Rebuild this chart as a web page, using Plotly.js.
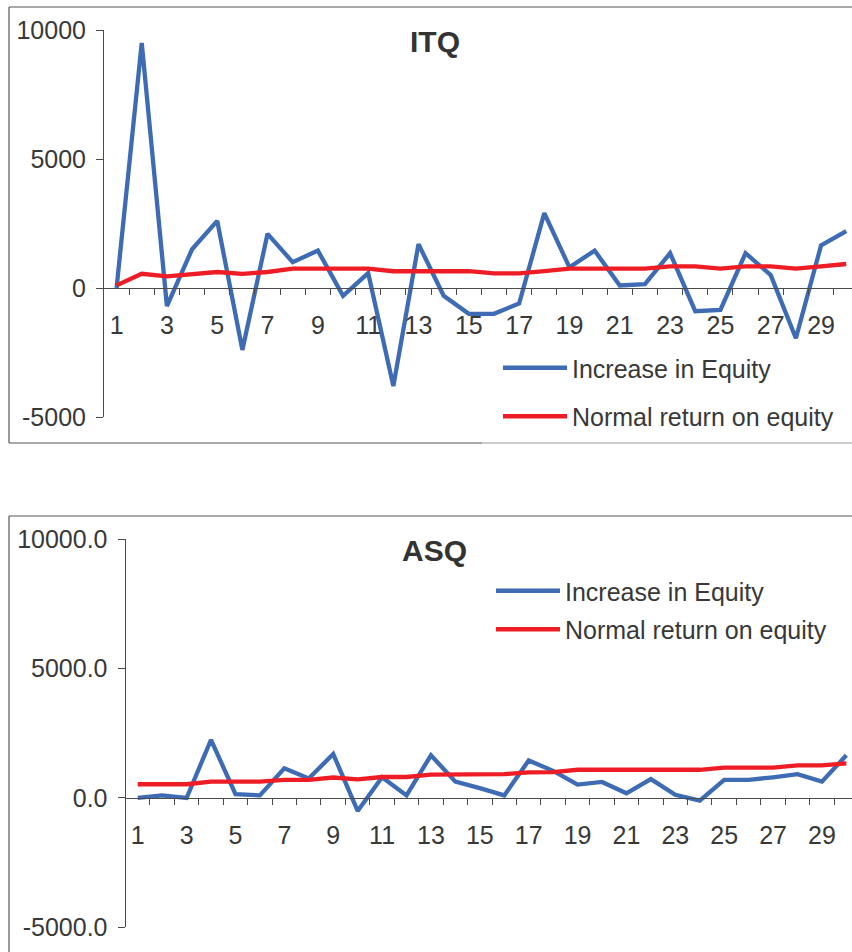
<!DOCTYPE html>
<html>
<head>
<meta charset="utf-8">
<script src="https://cdn.plot.ly/plotly-3.0.1.min.js"></script>
<style>
  html, body { margin: 0; padding: 0; background: #ffffff; }
  #chart { width: 852px; height: 952px; }
</style>
</head>
<body>
<div id="chart"></div>
<script>
// Periods on the horizontal axis
const periods = [1, 2, 3, 4, 5, 6, 7, 8, 9, 10, 11, 12, 13, 14, 15,
                 16, 17, 18, 19, 20, 21, 22, 23, 24, 25, 26, 27, 28, 29, 30];
const periodLabels = [1, 3, 5, 7, 9, 11, 13, 15, 17, 19, 21, 23, 25, 27, 29];

// ITQ series
const itqIncrease = [0, 9500, -700, 1500, 2600, -2400, 2100, 1000, 1450, -300,
                     580, -3800, 1700, -300, -1000, -1000, -600, 2900, 800, 1450,
                     100, 150, 1350, -900, -850, 1350, 500, -1950, 1650, 2200];
const itqNormal   = [100, 550, 450, 550, 620, 550, 620, 750, 750, 750,
                     750, 650, 650, 650, 650, 570, 570, 650, 750, 750,
                     750, 750, 840, 840, 750, 840, 840, 750, 840, 930];

// ASQ series
const asqIncrease = [0, 100, 0, 2250, 150, 100, 1150, 750, 1700, -500,
                     800, 100, 1650, 630, 380, 100, 1450, 1050, 520, 620,
                     180, 730, 120, -100, 700, 700, 800, 920, 630, 1650];
const asqNormal   = [530, 530, 530, 630, 630, 630, 700, 700, 790, 720,
                     810, 810, 900, 920, 920, 920, 990, 1000, 1090, 1090,
                     1090, 1090, 1090, 1090, 1170, 1170, 1170, 1260, 1260, 1340];

const seriesNames = ['Increase in Equity', 'Normal return on equity'];
const yTicks = [-5000, 0, 5000, 10000];

const W = 852, H = 952;
const BLUE = '#3D6BB4';
const RED = '#EE1D25';
const INK = '#383838';
const AXIS = '#4a4a4a';
const FRAME = '#555555';
const FONT = '"Liberation Sans", Arial, Helvetica, sans-serif';

const px = x => x / W;
const py = y => 1 - y / H;

const yRange = [-5000, 10000];
const xRange = [0.5, 30.23];

const topY = [py(417), py(30)];
const botY = [py(927.3), py(539.3)];

// x axis crosses the y axis at value 0
const zeroPos = dom => dom[0] + (0 - yRange[0]) / (yRange[1] - yRange[0]) * (dom[1] - dom[0]);

function xAxis(domainLeft, dom) {
  return {
    domain: [px(domainLeft), 1],
    range: xRange,
    anchor: 'free',
    position: zeroPos(dom),
    showline: true, linecolor: AXIS, linewidth: 1,
    showgrid: false, zeroline: false,
    tickmode: 'array',
    tickvals: periodLabels,
    ticktext: periodLabels.map(String),
    ticks: '',
    ticklabelstandoff: 15,
    tickfont: { family: FONT, size: 25, color: INK },
    minor: {
      tickmode: 'array',
      tickvals: periods.map(p => p + 0.5),
      ticks: 'outside', ticklen: 6, tickwidth: 1, tickcolor: AXIS,
      showgrid: false
    },
    fixedrange: true
  };
}

function yAxis(anchor, dom, decimals) {
  return {
    domain: dom,
    range: yRange,
    anchor: anchor,
    showline: true, linecolor: AXIS, linewidth: 1,
    showgrid: false, zeroline: false,
    tickmode: 'array',
    tickvals: yTicks,
    ticktext: yTicks.map(v => v.toFixed(decimals)),
    ticks: 'outside', ticklen: 7, tickwidth: 1, tickcolor: AXIS,
    ticklabelstandoff: 5,
    tickfont: { family: FONT, size: 25, color: INK },
    fixedrange: true
  };
}

function line(x, y, color, name, xa, ya, legend, group) {
  return {
    type: 'scatter', mode: 'lines',
    x: x, y: y, name: name,
    xaxis: xa, yaxis: ya,
    legend: legend, legendgroup: group,
    line: { color: color, width: 4.3 },
    hoverinfo: 'x+y'
  };
}

const traces = [
  line(periods, itqIncrease, BLUE, seriesNames[0], 'x', 'y', 'legend', 'a1'),
  line(periods, itqNormal, RED, seriesNames[1], 'x', 'y', 'legend', 'a2'),
  line(periods, asqIncrease, BLUE, seriesNames[0], 'x2', 'y2', 'legend2', 'b1'),
  line(periods, asqNormal, RED, seriesNames[1], 'x2', 'y2', 'legend2', 'b2')
];

function legendBox(left, top, gap) {
  return {
    x: px(left), xanchor: 'left',
    y: py(top), yanchor: 'top',
    bgcolor: 'rgba(0,0,0,0)', borderwidth: 0,
    font: { family: FONT, size: 25, color: INK },
    itemwidth: 64,
    tracegroupgap: gap,
    traceorder: 'grouped'
  };
}

// panel frames
const frameShapes = [
  // ITQ panel
  { type: 'line', xref: 'paper', yref: 'paper', x0: px(9), x1: px(9), y0: py(443), y1: py(7), line: { color: FRAME, width: 1.2 } },
  { type: 'line', xref: 'paper', yref: 'paper', x0: px(9), x1: 1.01, y0: py(7), y1: py(7), line: { color: FRAME, width: 1.2 } },
  { type: 'line', xref: 'paper', yref: 'paper', x0: px(9), x1: px(482), y0: py(443), y1: py(443), line: { color: FRAME, width: 1.2 } },
  { type: 'line', xref: 'paper', yref: 'paper', x0: px(482), x1: 1.01, y0: py(443), y1: py(443), line: { color: '#9a9a9a', width: 1.2 } },
  // ASQ panel
  { type: 'line', xref: 'paper', yref: 'paper', x0: px(9), x1: px(9), y0: -0.01, y1: py(516), line: { color: FRAME, width: 1.2 } },
  { type: 'line', xref: 'paper', yref: 'paper', x0: px(9), x1: 1.01, y0: py(516), y1: py(516), line: { color: FRAME, width: 1.2 } }
];

const titles = [
  { text: '<b>ITQ</b>', x: px(434.5), y: py(42) },
  { text: '<b>ASQ</b>', x: px(434.5), y: py(550) }
].map(t => Object.assign(t, {
  xref: 'paper', yref: 'paper', xanchor: 'center', yanchor: 'middle',
  showarrow: false, font: { family: FONT, size: 30, color: '#333333' }
}));

const layout = {
  width: W, height: H,
  margin: { l: 0, r: 0, t: 0, b: 0, pad: 0 },
  paper_bgcolor: '#ffffff', plot_bgcolor: 'rgba(0,0,0,0)',
  showlegend: true,
  xaxis: xAxis(104, topY),
  yaxis: yAxis('x', topY, 0),
  xaxis2: xAxis(125.5, botY),
  yaxis2: yAxis('x2', botY, 1),
  legend: legendBox(498, 345, 13),
  legend2: legendBox(491, 568, 3),
  shapes: frameShapes,
  annotations: titles
};

Plotly.newPlot('chart', traces, layout, { displayModeBar: false, staticPlot: true });
</script>
</body>
</html>
